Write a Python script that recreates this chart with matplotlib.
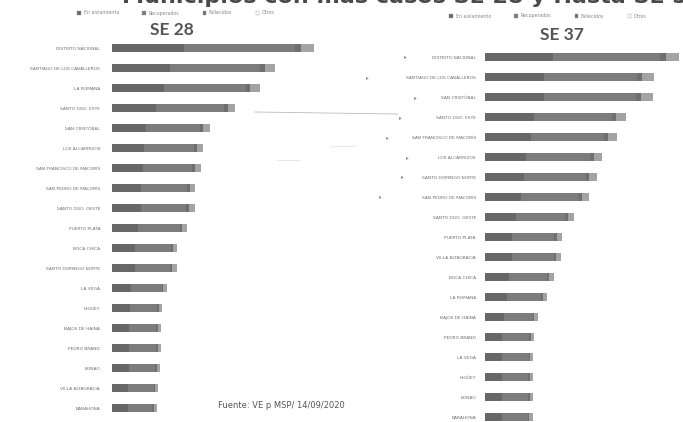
import numpy as np
import matplotlib.pyplot as plt
from matplotlib.patches import Patch

# SE 28 panel (left)
left_names = ['DISTRITO NACIONAL', 'SANTIAGO DE LOS CABALLEROS', 'LA ROMANA',
              'SANTO DGO. ESTE', 'SAN CRISTÓBAL', 'LOS ALCARRIZOS',
              'SAN FRANCISCO DE MACORÍS', 'SAN PEDRO DE MACORÍS',
              'SANTO DGO. OESTE', 'PUERTO PLATA', 'BOCA CHICA',
              'SANTO DOMINGO NORTE', 'LA VEGA', 'HIGÜEY', 'BAJOS DE HAINA',
              'PEDRO BRAND', 'BONAO', 'VILLA ALTAGRACIA', 'BARAHONA']
left_activos = [1800, 1450, 1300, 1100, 860, 800, 780, 730, 720, 660,
                570, 570, 480, 440, 430, 430, 420, 400, 390]
left_recup = [2780, 2250, 2040, 1700, 1350, 1260, 1220, 1150, 1140, 1040,
              900, 890, 760, 690, 680, 670, 660, 640, 620]
left_fallec = [150, 120, 110, 90, 70, 70, 70, 60, 60, 50,
               50, 50, 40, 40, 40, 40, 40, 30, 30]
left_otros = [320, 260, 250, 190, 170, 150, 150, 140, 150, 130,
              110, 110, 100, 80, 80, 80, 80, 80, 80]

# SE 37 panel (right)
right_names = ['DISTRITO NACIONAL', 'SANTIAGO DE LOS CABALLEROS',
               'SAN CRISTÓBAL', 'SANTO DGO. ESTE',
               'SAN FRANCISCO DE MACORÍS', 'LOS ALCARRIZOS',
               'SANTO DOMINGO NORTE', 'SAN PEDRO DE MACORÍS',
               'SANTO DGO. OESTE', 'PUERTO PLATA', 'VILLA ALTAGRACIA',
               'BOCA CHICA', 'LA ROMANA', 'BAJOS DE HAINA', 'PEDRO BRAND',
               'LA VEGA', 'HIGÜEY', 'BONAO', 'BARAHONA']
right_activos = [4100, 3550, 3530, 2960, 2770, 2460, 2350, 2180, 1870, 1620,
                 1600, 1450, 1300, 1110, 1030, 1010, 1010, 1010, 1000]
right_recup = [6400, 5560, 5540, 4650, 4360, 3860, 3700, 3430, 2940, 2540,
               2510, 2280, 2050, 1750, 1620, 1600, 1590, 1580, 1570]
right_fallec = [350, 300, 300, 250, 240, 210, 200, 190, 160, 140,
                130, 120, 110, 100, 90, 90, 90, 90, 90]
right_otros = [790, 710, 710, 600, 550, 490, 470, 440, 370, 320,
               320, 290, 260, 220, 200, 200, 200, 200, 200]

legend_labels = ['En aislamiento', 'Recuperados', 'Fallecidos', 'Otros']
colors = ['#676767', '#7c7c7c', '#6f6f6f', '#a3a3a3']

W, H = 683, 422


def px_axes(fig, x0, y0, x1, y1):
    """add axes using pixel coordinates measured from the top-left"""
    return fig.add_axes([x0 / W, 1 - y1 / H, (x1 - x0) / W, (y1 - y0) / H])


def draw_panel(ax, names, series, xmax, pad):
    y = np.arange(len(names))
    base = np.zeros(len(names))
    for vals, c in zip(series, colors):
        ax.barh(y, vals, left=base, height=0.42, color=c, edgecolor='none')
        base = base + np.array(vals)
    ax.set_xlim(0, xmax)
    ax.set_ylim(len(names) - 0.5, -0.5)
    ax.set_yticks(y)
    ax.set_yticklabels(names, fontsize=3.2, color='#6f6f6f')
    ax.tick_params(axis='y', length=0, pad=pad)
    ax.set_xticks([])
    for s in ax.spines.values():
        s.set_visible(False)


fig = plt.figure(figsize=(6.83, 4.22), dpi=100)

ax1 = px_axes(fig, 112, 38, 332, 418)
draw_panel(ax1, left_names,
           [left_activos, left_recup, left_fallec, left_otros], 5500, 8.5)

ax2 = px_axes(fig, 485, 47, 683, 427)
draw_panel(ax2, right_names,
           [right_activos, right_recup, right_fallec, right_otros],
           11880, 6.5)

# title of the slide, cut by the top edge as in the scan
fig.text(1.03, 1 - 3 / H, 'Municipios con más casos SE 28 y Hasta SE 37',
         ha='right', va='baseline', fontsize=16, fontweight='bold',
         color='#4a4a4a')

fig.text(172 / W, 1 - 30 / H, 'SE 28', ha='center', va='center',
         fontsize=12.5, fontweight='bold', color='#555555', family='Lato')
fig.text(562 / W, 1 - 35 / H, 'SE 37', ha='center', va='center',
         fontsize=12.5, fontweight='bold', color='#555555', family='Lato')

handles = [Patch(facecolor=c, edgecolor='#999999', linewidth=0.3)
           for c in colors[:3]]
handles.append(Patch(facecolor='white', edgecolor='#999999', linewidth=0.3))
for cx, cy in [(176, 13), (548, 16)]:
    fig.legend(handles, legend_labels, loc='center',
               bbox_to_anchor=(cx / W, 1 - cy / H), ncol=4, fontsize=3.4,
               frameon=False, handlelength=0.7, handleheight=0.7,
               handletextpad=0.6, columnspacing=5.0, labelcolor='#888888')

# rank change marks and guide lines between panels
mark_x = [405, 367, 415, 400, 387, 407, 402, 380]
mark_y = [57, 78, 98, 118, 138, 158, 177, 197]
for mx, my in zip(mark_x, mark_y):
    fig.text(mx / W, 1 - my / H, '▸', ha='center', va='center',
             fontsize=4, color='#888888')
fig.add_artist(plt.Line2D([255 / W, 398 / W], [1 - 112 / H, 1 - 114 / H],
                          color='#bbbbbb', linewidth=0.6))
fig.add_artist(plt.Line2D([330 / W, 357 / W], [1 - 147 / H, 1 - 146 / H],
                          color='#dddddd', linewidth=0.5))
fig.add_artist(plt.Line2D([277 / W, 300 / W], [1 - 160 / H, 1 - 160 / H],
                          color='#dddddd', linewidth=0.5))

fig.text(218 / W, 1 - 406 / H, 'Fuente: VE p MSP/ 14/09/2020',
         ha='left', va='center', fontsize=6.0, color='#555555')

fig.savefig('out.png', dpi=100)
